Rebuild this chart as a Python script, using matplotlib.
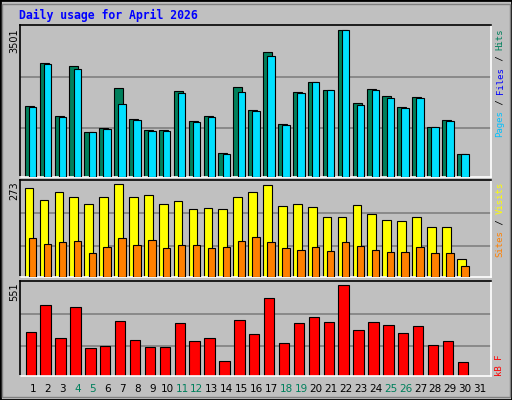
import matplotlib
matplotlib.use("Agg")
import matplotlib.pyplot as plt
import numpy as np
from matplotlib.patches import Rectangle

days = list(range(1, 32))
hits = [1695,2717,1457,2646,1077,1172,2123,1386,1125,1125,2052,1339,1457,578,2147,1600,2978,1267,2028,2265,2075,3501,1766,2099,1933,1671,1909,1196,1362,554,0]
files = [1671,2693,1434,2574,1077,1149,1743,1362,1101,1101,2004,1315,1434,554,2028,1576,2883,1244,2004,2265,2075,3501,1719,2075,1885,1648,1885,1196,1339,554,0]
visits = [261,228,249,237,216,235,273,235,241,216,225,199,202,199,237,249,270,208,214,205,178,178,211,187,169,166,178,148,148,53,0]
sites = [116,98,104,107,71,89,116,95,110,86,95,95,86,89,107,119,104,86,80,89,77,104,92,80,74,74,89,71,71,33,0]
kbytes = [269,430,231,418,171,183,334,219,177,177,322,213,231,93,340,255,473,201,322,358,328,551,280,328,310,261,304,189,213,86,0]
weekends = [4,5,11,12,18,19,25,26]
title = "Daily usage for April 2026"

W, H = 512, 400
fig = plt.figure(figsize=(W/100, H/100), dpi=100)
fig.patch.set_facecolor("#C0C0C0")
BG = "#C0C0C0"
MONO = "DejaVu Sans Mono"

def fx(px): return px / W
def fy(py): return 1 - py / H

def grid(ax, top):
    ax.set_ylim(0, top)
    for f in (0.32, 0.655):
        ax.axhline(f * top, color="#808080", lw=1.2, zorder=0)

d = np.array(days, dtype=float)
ec = "#000000"

ax1 = fig.add_axes([fx(20), fy(177), fx(491) - fx(20), 152 / H])
ax2 = fig.add_axes([fx(20), fy(277), fx(491) - fx(20), 97 / H])
ax3 = fig.add_axes([fx(20), fy(376), fx(491) - fx(20), 95 / H])
for ax in (ax1, ax2, ax3):
    ax.set_facecolor(BG)
    ax.set_xlim(0.13, 31.74)
    ax.set_xticks([]); ax.set_yticks([])
    for s in ["top", "left"]:
        ax.spines[s].set_color("#000000")
    for s in ["bottom", "right"]:
        ax.spines[s].set_color("#FFFFFF")
    for s in ax.spines.values():
        s.set_linewidth(1.2)

grid(ax1, max(hits) * 1.032)
grid(ax2, max(visits) * 1.047)
grid(ax3, max(kbytes) * 1.044)

m = np.array(hits) > 0
ax1.bar(d[m] - 0.55, np.array(hits)[m], width=0.6, align="edge", color="#00805C", edgecolor=ec, lw=0.8, zorder=2)
ax1.bar(d[m] - 0.27, np.array(files)[m], width=0.5, align="edge", color="#00E0FF", edgecolor=ec, lw=0.8, zorder=3)
ax2.bar(d[m] - 0.55, np.array(visits)[m], width=0.58, align="edge", color="#FFFF00", edgecolor=ec, lw=0.8, zorder=2)
ax2.bar(d[m] - 0.27, np.array(sites)[m], width=0.5, align="edge", color="#FF8000", edgecolor=ec, lw=0.8, zorder=3)
ax3.bar(d[m] - 0.5, np.array(kbytes)[m], width=0.7, align="edge", color="#FF0000", edgecolor=ec, lw=0.8, zorder=2)

for day in days:
    px = 33 + (day - 1) * 14.9
    fig.text(fx(px), fy(389), str(day), ha="center", va="center", fontsize=7.5,
             family="DejaVu Sans", color="#00805C" if day in weekends else "#000000")

fig.text(fx(19), fy(15), title, ha="left", va="center", fontsize=8.3,
         family=MONO, weight="bold", color="#0000FF")

for txt, top in ((str(max(hits)), 28), (str(max(visits)), 181), (str(max(kbytes)), 282)):
    fig.text(fx(14), fy(top), txt, rotation=90, ha="center", va="top",
             fontsize=7, family="DejaVu Sans", color="#000000")

FS = 6.5
CW = 0.602 * FS * 100 / 72

def rtext(pieces, bottom_px):
    y = bottom_px
    for t, c in pieces:
        fig.text(fx(500), fy(y), t, rotation=90, ha="center", va="bottom",
                 fontsize=FS, family=MONO, color=c)
        y -= CW * len(t)

rtext([("Pages", "#00C0FF"), (" / ", "#000000"), ("Files", "#0000FF"), (" / ", "#000000"), ("Hits", "#00805C")], 137)
rtext([("Sites", "#FF8000"), (" / ", "#000000"), ("Visits", "#FFFF00")], 257)
rtext([("kB F", "#FF0000")], 376)

fig.patches.append(Rectangle((0, 0), 1, 1, transform=fig.transFigure, fill=False,
                             edgecolor="#000000", lw=2))
fig.patches.append(Rectangle((fx(2), fy(397)), fx(508), 393 / H, transform=fig.transFigure,
                             fill=False, edgecolor="#808080", lw=1))

fig.savefig("out.png", dpi=100, facecolor=fig.get_facecolor())
